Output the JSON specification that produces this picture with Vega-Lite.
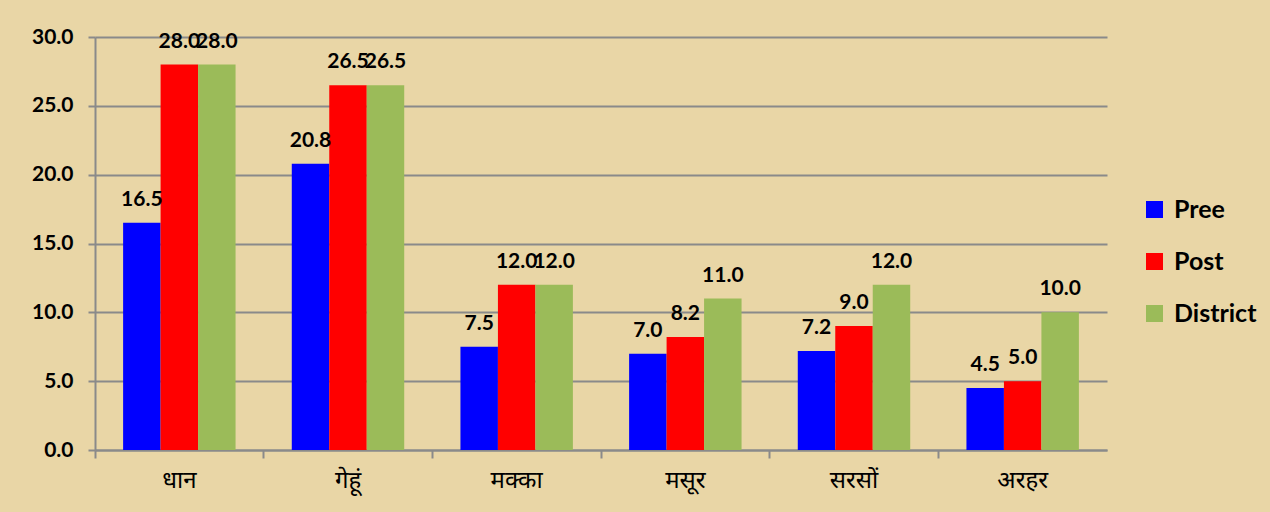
{
  "$schema": "https://vega.github.io/schema/vega-lite/v6.json",
  "width": 1012,
  "height": 413,
  "autosize": {"type": "none"},
  "padding": {"left": 95, "top": 37, "right": 163, "bottom": 62},
  "background": "#e9d6a6",
  "config": {
    "view": {"stroke": null},
    "font": "Lato"
  },
  "data": {
    "values": [
      {"crop": "धान", "series": "Pree", "value": 16.5},
      {"crop": "धान", "series": "Post", "value": 28.0},
      {"crop": "धान", "series": "District", "value": 28.0},
      {"crop": "गेहूं", "series": "Pree", "value": 20.8},
      {"crop": "गेहूं", "series": "Post", "value": 26.5},
      {"crop": "गेहूं", "series": "District", "value": 26.5},
      {"crop": "मक्का", "series": "Pree", "value": 7.5},
      {"crop": "मक्का", "series": "Post", "value": 12.0},
      {"crop": "मक्का", "series": "District", "value": 12.0},
      {"crop": "मसूर", "series": "Pree", "value": 7.0},
      {"crop": "मसूर", "series": "Post", "value": 8.2},
      {"crop": "मसूर", "series": "District", "value": 11.0},
      {"crop": "सरसों", "series": "Pree", "value": 7.2},
      {"crop": "सरसों", "series": "Post", "value": 9.0},
      {"crop": "सरसों", "series": "District", "value": 12.0},
      {"crop": "अरहर", "series": "Pree", "value": 4.5},
      {"crop": "अरहर", "series": "Post", "value": 5.0},
      {"crop": "अरहर", "series": "District", "value": 10.0}
    ]
  },
  "encoding": {
    "x": {
      "field": "crop",
      "type": "nominal",
      "sort": null,
      "scale": {"paddingInner": 0, "paddingOuter": 0},
      "axis": {
        "title": null,
        "labelAngle": 0,
        "labelFont": "Noto Sans",
        "labelFontSize": 24,
        "labelColor": "#000000",
        "labelPadding": 10,
        "bandPosition": 0,
        "tickSize": 8,
        "tickWidth": 2,
        "tickColor": "#8a8a8a",
        "domainColor": "#8a8a8a",
        "domainWidth": 2,
        "grid": false
      }
    },
    "xOffset": {
      "field": "series",
      "type": "nominal",
      "sort": ["Pree", "Post", "District"],
      "scale": {"paddingInner": 0, "paddingOuter": 0.75}
    },
    "y": {
      "field": "value",
      "type": "quantitative",
      "scale": {"domain": [0, 30], "nice": false},
      "axis": {
        "title": null,
        "values": [0, 5, 10, 15, 20, 25, 30],
        "format": ".1f",
        "labelFont": "Lato",
        "labelFontSize": 21,
        "labelFontWeight": "bold",
        "labelColor": "#000000",
        "labelPadding": 15,
        "tickSize": 7,
        "tickWidth": 2,
        "tickColor": "#8a8a8a",
        "domainColor": "#8a8a8a",
        "domainWidth": 2,
        "gridColor": "#8a8a8a",
        "gridWidth": 2
      }
    }
  },
  "layer": [
    {
      "mark": {"type": "bar"},
      "encoding": {
        "color": {
          "field": "series",
          "type": "nominal",
          "sort": ["Pree", "Post", "District"],
          "scale": {"domain": ["Pree", "Post", "District"], "range": ["#0000ff", "#ff0000", "#9bbb59"]},
          "legend": {
            "title": null,
            "orient": "none",
            "legendX": 1047,
            "legendY": 160,
            "symbolType": "square",
            "symbolSize": 289,
            "symbolStrokeWidth": 0,
            "labelFont": "Lato",
            "labelFontSize": 25,
            "labelFontWeight": "bold",
            "labelColor": "#000000",
            "rowPadding": 26,
            "labelOffset": 7
          }
        }
      }
    },
    {
      "mark": {"type": "text", "baseline": "bottom", "dy": -13, "font": "Lato", "fontSize": 21, "fontWeight": "bold", "color": "#000000"},
      "encoding": {
        "text": {"field": "value", "type": "quantitative", "format": ".1f"}
      }
    }
  ]
}
